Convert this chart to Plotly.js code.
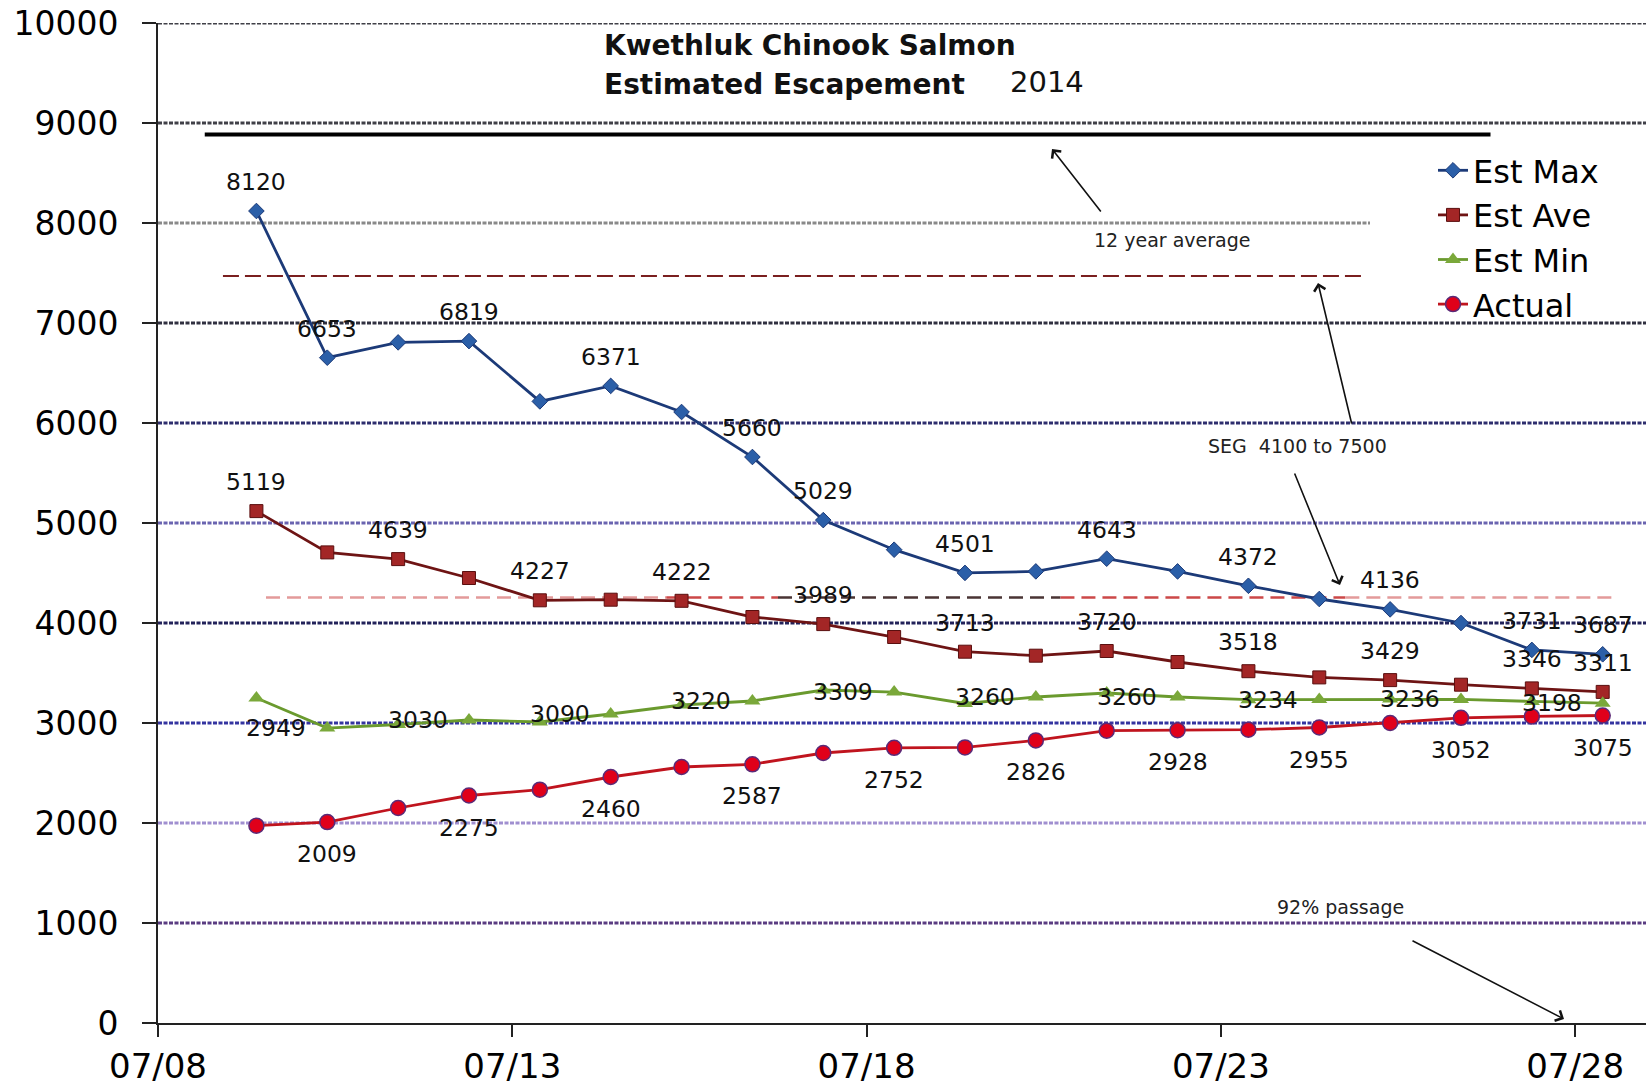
<!DOCTYPE html>
<html>
<head>
<meta charset="utf-8">
<script src="https://cdn.plot.ly/plotly-3.0.1.min.js"></script>
<style>
  body { margin: 0; background: #fff; }
  #chart { width: 1646px; height: 1089px; }
</style>
</head>
<body>
<div id="chart"></div>
<script>
// Datos (Kwethluk Chinook 2014)
const dates = [
  '2014-07-09 09:20', '2014-07-10 09:20', '2014-07-11 09:20', '2014-07-12 09:20',
  '2014-07-13 09:20', '2014-07-14 09:20', '2014-07-15 09:20', '2014-07-16 09:20',
  '2014-07-17 09:20', '2014-07-18 09:20', '2014-07-19 09:20', '2014-07-20 09:20',
  '2014-07-21 09:20', '2014-07-22 09:20', '2014-07-23 09:20', '2014-07-24 09:20',
  '2014-07-25 09:20', '2014-07-26 09:20', '2014-07-27 09:20', '2014-07-28 09:20'
];
const estMax = [8120, 6653, 6806, 6819, 6216, 6371, 6110, 5660, 5029, 4733,
                4501, 4516, 4643, 4516, 4372, 4240, 4136, 4000, 3731, 3687];
const estAve = [5119, 4706, 4639, 4450, 4227, 4233, 4222, 4060, 3989, 3860,
                3713, 3673, 3720, 3610, 3518, 3456, 3429, 3383, 3346, 3311];
const estMin = [3250, 2949, 2985, 3030, 3010, 3090, 3180, 3220, 3330, 3309,
                3195, 3260, 3300, 3260, 3233, 3234, 3240, 3236, 3216, 3198];
const actual = [1973, 2009, 2150, 2275, 2333, 2460, 2560, 2587, 2700, 2752,
                2756, 2826, 2923, 2928, 2933, 2955, 3000, 3052, 3066, 3075];

// puntos que llevan etiqueta
const maxLabelIdx = [0, 1, 3, 5, 7, 8, 10, 12, 14, 16, 18, 19];
const aveLabelIdx = [0, 2, 4, 6, 8, 10, 12, 14, 16, 18, 19];
const minLabelIdx = [1, 3, 5, 7, 9, 11, 13, 15, 17, 19];
const actLabelIdx = [1, 3, 5, 7, 9, 11, 13, 15, 17, 19];

// lineas de referencia
const avg12 = 8885;
const avg12Span = ['2014-07-08 15:50', '2014-07-26 19:20'];
const segHigh = 7470;
const segHighSpan = ['2014-07-08 22:00', '2014-07-25 00:15'];
const segLow = 4255;
const segLowStops = ['2014-07-09 12:35', '2014-07-15 04:10', '2014-07-16 18:00',
                     '2014-07-20 17:40', '2014-07-24 18:10', '2014-07-28 13:10'];
const segLowColors = ['#e39a9a', '#cc4848', '#4a3434', '#cc4848', '#e39a9a'];

const yTicks = [1000, 2000, 3000, 4000, 5000, 6000, 7000, 8000, 9000, 10000];
const gridColors = ['#5a3c82', '#a08fd0', '#3434a0', '#22225a', '#6a64b0',
                    '#2e2e6e', '#303040', '#8a8a8a', '#404048', '#404048'];

const FONT = 'DejaVu Sans';

// pixel -> paper
const L = 158, R = 1646, T = 23, B = 1023;
const px = x => (x - L) / (R - L);
const py = y => (B - y) / (B - T);

const traces = [
  {
    x: dates, y: estMax, name: 'Est Max', type: 'scatter', mode: 'lines+markers',
    line: {color: '#1c3a78', width: 2.8},
    marker: {symbol: 'diamond', size: 12, color: '#2b5fa8', line: {color: '#1c3a78', width: 1}}
  },
  {
    x: dates, y: estAve, name: 'Est Ave', type: 'scatter', mode: 'lines+markers',
    line: {color: '#6e1414', width: 2.8},
    marker: {symbol: 'square', size: 13, color: '#a32626', line: {color: '#5a0f0f', width: 1}}
  },
  {
    x: dates, y: estMin, name: 'Est Min', type: 'scatter', mode: 'lines+markers',
    line: {color: '#6a9a2e', width: 2.8},
    marker: {symbol: 'triangle-up', size: 14, color: '#7aa83a'}
  },
  {
    x: dates, y: actual, name: 'Actual', type: 'scatter', mode: 'lines+markers',
    line: {color: '#c0141e', width: 2.8},
    marker: {symbol: 'circle', size: 15, color: '#e0001a', line: {color: '#5a2a78', width: 1.5}}
  }
];

// etiquetas de datos
function labels(values, idx, xshift, yshift) {
  return idx.map(i => ({
    x: dates[i], y: values[i], xref: 'x', yref: 'y',
    xanchor: 'center', yanchor: 'middle',
    text: String(values[i]), showarrow: false,
    xshift: xshift, yshift: yshift,
    font: {family: FONT, size: 23.5, color: '#111'}
  }));
}

const annotations = [].concat(
  labels(estMax, maxLabelIdx, 0, 29),
  labels(estAve, aveLabelIdx, 0, 29),
  labels(estMin, minLabelIdx, -51, 0),
  labels(actual, actLabelIdx, 0, -32)
);

// titulo
annotations.push(
  {xref: 'paper', yref: 'paper', x: px(602), y: py(45), xanchor: 'left', yanchor: 'middle',
   text: '<b>Kwethluk Chinook Salmon</b>', showarrow: false,
   font: {family: FONT, size: 28, color: '#111'}},
  {xref: 'paper', yref: 'paper', x: px(602), y: py(84), xanchor: 'left', yanchor: 'middle',
   text: '<b>Estimated Escapement</b>', showarrow: false,
   font: {family: FONT, size: 28, color: '#111'}},
  {xref: 'paper', yref: 'paper', x: px(1008), y: py(82), xanchor: 'left', yanchor: 'middle',
   text: '2014', showarrow: false,
   font: {family: FONT, size: 29, color: '#111'}}
);

// notas con flechas
const notes = [
  {text: '12 year average', x: 1172, y: 240},
  {text: 'SEG&nbsp;&nbsp;4100 to 7500', x: 1297, y: 446},
  {text: '92% passage', x: 1340, y: 907}
];
notes.forEach(n => annotations.push({
  xref: 'paper', yref: 'paper', x: px(n.x), y: py(n.y),
  xanchor: 'center', yanchor: 'middle', showarrow: false,
  text: n.text, font: {family: FONT, size: 19, color: '#222'}
}));

const arrows = [
  {head: [1052, 149], tail: [1102, 213]},
  {head: [1318, 283], tail: [1352, 425]},
  {head: [1340, 585], tail: [1294, 472]},
  {head: [1564, 1019], tail: [1411, 940]}
];
arrows.forEach(a => annotations.push({
  xref: 'paper', yref: 'paper', x: px(a.head[0]), y: py(a.head[1]),
  ax: a.tail[0] - a.head[0], ay: a.tail[1] - a.head[1],
  text: '', showarrow: true, arrowhead: 4, arrowsize: 1.4, arrowwidth: 1.6,
  arrowcolor: '#111', standoff: 0
}));

// lineas de cuadricula y de referencia
const shapes = yTicks.map((v, i) => ({
  type: 'line', layer: 'below', xref: 'paper', yref: 'y',
  x0: 0, x1: 1, y0: v, y1: v,
  line: {color: gridColors[i], width: 2.8, dash: '4px,1.5px'}
}));

// caja blanca de la leyenda
shapes.push({
  type: 'rect', layer: 'below', xref: 'paper', yref: 'paper',
  x0: px(1370), x1: 1, y0: py(312), y1: py(142),
  fillcolor: '#ffffff', line: {width: 0}
});

shapes.push({
  type: 'line', layer: 'below', xref: 'x', yref: 'y',
  x0: avg12Span[0], x1: avg12Span[1], y0: avg12, y1: avg12,
  line: {color: '#000', width: 4}
});
shapes.push({
  type: 'line', layer: 'below', xref: 'x', yref: 'y',
  x0: segHighSpan[0], x1: segHighSpan[1], y0: segHigh, y1: segHigh,
  line: {color: '#7a1f1f', width: 2, dash: '16px,6px'}
});
segLowColors.forEach((c, i) => shapes.push({
  type: 'line', layer: 'below', xref: 'x', yref: 'y',
  x0: segLowStops[i], x1: segLowStops[i + 1], y0: segLow, y1: segLow,
  line: {color: c, width: 2.5, dash: '14px,7px'}
}));

const layout = {
  width: 1646,
  height: 1089,
  margin: {l: L, r: 0, t: T, b: 1089 - B},
  paper_bgcolor: '#fff',
  plot_bgcolor: '#fff',
  font: {family: FONT, color: '#000'},
  showlegend: true,
  legend: {
    x: px(1433), y: py(143), xanchor: 'left', yanchor: 'top',
    bgcolor: 'rgba(255,255,255,0)', borderwidth: 0,
    font: {family: FONT, size: 32, color: '#000'},
    tracegroupgap: 0
  },
  xaxis: {
    type: 'date',
    range: ['2014-07-08', '2014-07-29'],
    tick0: '2014-07-08',
    dtick: 5 * 86400000,
    tickformat: '%m/%d',
    ticks: 'outside', ticklen: 12, tickwidth: 2, tickcolor: '#222',
    showline: true, linecolor: '#222', linewidth: 2,
    showgrid: false, zeroline: false,
    ticklabelstandoff: 0,
    tickfont: {family: FONT, size: 34, color: '#000'}
  },
  yaxis: {
    range: [0, 10000],
    tick0: 0, dtick: 1000,
    tickformat: 'd',
    ticks: 'outside', ticklen: 14, tickwidth: 2, tickcolor: '#222',
    showline: true, linecolor: '#222', linewidth: 2,
    showgrid: false, zeroline: false,
    ticklabelstandoff: 17,
    tickfont: {family: FONT, size: 33, color: '#000'}
  },
  shapes: shapes,
  annotations: annotations
};

Plotly.newPlot('chart', traces, layout, {displayModeBar: false, staticPlot: true});
</script>
</body>
</html>
